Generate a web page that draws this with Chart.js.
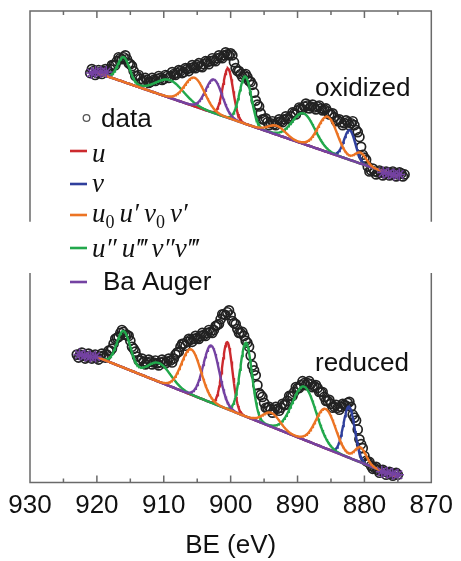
<!DOCTYPE html>
<html>
<head>
<meta charset="utf-8">
<script src="https://cdn.jsdelivr.net/npm/chart.js@4.4.1/dist/chart.umd.min.js"></script>
<style>
  html, body { margin: 0; padding: 0; background: #fff; }
  #wrap { position: relative; width: 461px; height: 561px; }
</style>
</head>
<body>
<div id="wrap"><canvas id="c" width="461" height="561"></canvas></div>
<script>
// Ce 3d XPS spectra. Binding energy in eV, intensity in arbitrary units
// (the oxidized spectrum is stacked above the reduced one).
// Each spectrum is stored as two interleaved sets of channels.
const beOxidized = [
  921.0, 920.5, 920.0, 919.5, 919.0, 918.5, 918.0, 917.5, 917.0, 916.5,
  916.0, 915.5, 915.0, 914.5, 914.0, 913.5, 913.0, 912.5, 912.0, 911.5,
  911.0, 910.5, 910.0, 909.5, 909.0, 908.5, 908.0, 907.5, 907.0, 906.5,
  906.0, 905.5, 905.0, 904.5, 904.0, 903.5, 903.0, 902.5, 902.0, 901.5,
  901.0, 900.5, 900.0, 899.5, 899.0, 898.5, 898.0, 897.5, 897.0, 896.5,
  896.0, 895.5, 895.0, 894.5, 894.0, 893.5, 893.0, 892.5, 892.0, 891.5,
  891.0, 890.5, 890.0, 889.5, 889.0, 888.5, 888.0, 887.5, 887.0, 886.5,
  886.0, 885.5, 885.0, 884.5, 884.0, 883.5, 883.0, 882.5, 882.0, 881.5,
  881.0, 880.5, 880.0, 879.5, 879.0, 878.5, 878.0, 877.5, 877.0, 876.5,
  876.0, 875.5, 875.0, 874.5, 874.0
];
const intOxidized = [
  416, 418, 416, 417, 418, 418, 420, 424, 428, 431,
  432, 430, 425, 418, 413, 410, 408, 409, 407, 409,
  410, 411, 410, 413, 413, 415, 416, 418, 417, 420,
  421, 422, 424, 423, 425, 427, 428, 429, 431, 432,
  434, 435, 436, 427, 418, 415, 414, 412, 407, 396,
  384, 375, 369, 366, 365, 364, 366, 367, 369, 370,
  372, 375, 378, 380, 382, 383, 382, 381, 382, 380,
  379, 377, 374, 371, 368, 366, 365, 366, 365, 363,
  356, 341, 330, 321, 317, 316, 315, 315, 314, 315,
  314, 314, 313, 314, 313
];
const beOxidizedMid = [
  920.75, 920.25, 919.75, 919.25, 918.75, 918.25, 917.75, 917.25, 916.75, 916.25,
  915.75, 915.25, 914.75, 914.25, 913.75, 913.25, 912.75, 912.25, 911.75, 911.25,
  910.75, 910.25, 909.75, 909.25, 908.75, 908.25, 907.75, 907.25, 906.75, 906.25,
  905.75, 905.25, 904.75, 904.25, 903.75, 903.25, 902.75, 902.25, 901.75, 901.25,
  900.75, 900.25, 899.75, 899.25, 898.75, 898.25, 897.75, 897.25, 896.75, 896.25,
  895.75, 895.25, 894.75, 894.25, 893.75, 893.25, 892.75, 892.25, 891.75, 891.25,
  890.75, 890.25, 889.75, 889.25, 888.75, 888.25, 887.75, 887.25, 886.75, 886.25,
  885.75, 885.25, 884.75, 884.25, 883.75, 883.25, 882.75, 882.25, 881.75, 881.25,
  880.75, 880.25, 879.75, 879.25, 878.75, 878.25, 877.75, 877.25, 876.75, 876.25,
  875.75, 875.25, 874.75, 874.25
];
const intOxidizedMid = [
  420, 414, 419, 415, 420, 417, 424, 424, 432, 430,
  434, 426, 423, 413, 414, 407, 411, 406, 411, 408,
  413, 409, 414, 411, 417, 414, 419, 416, 421, 418,
  424, 421, 426, 422, 428, 425, 431, 428, 434, 431,
  437, 434, 434, 421, 418, 412, 415, 408, 404, 388,
  382, 369, 370, 363, 367, 363, 369, 366, 372, 369,
  376, 374, 381, 379, 385, 380, 384, 379, 383, 378,
  380, 374, 375, 367, 369, 363, 368, 363, 367, 358,
  351, 333, 328, 316, 319, 313, 317, 312, 316, 312,
  316, 311, 315, 311
];

const beReduced = [
  923.0, 922.5, 922.0, 921.5, 921.0, 920.5, 920.0, 919.5, 919.0, 918.5,
  918.0, 917.5, 917.0, 916.5, 916.0, 915.5, 915.0, 914.5, 914.0, 913.5,
  913.0, 912.5, 912.0, 911.5, 911.0, 910.5, 910.0, 909.5, 909.0, 908.5,
  908.0, 907.5, 907.0, 906.5, 906.0, 905.5, 905.0, 904.5, 904.0, 903.5,
  903.0, 902.5, 902.0, 901.5, 901.0, 900.5, 900.0, 899.5, 899.0, 898.5,
  898.0, 897.5, 897.0, 896.5, 896.0, 895.5, 895.0, 894.5, 894.0, 893.5,
  893.0, 892.5, 892.0, 891.5, 891.0, 890.5, 890.0, 889.5, 889.0, 888.5,
  888.0, 887.5, 887.0, 886.5, 886.0, 885.5, 885.0, 884.5, 884.0, 883.5,
  883.0, 882.5, 882.0, 881.5, 881.0, 880.5, 880.0, 879.5, 879.0, 878.5,
  878.0, 877.5, 877.0, 876.5, 876.0, 875.5, 875.0
];
const intReduced = [
  130, 130, 129, 128, 129, 128, 127, 128, 129, 130,
  134, 141, 147, 152, 153, 150, 144, 136, 128, 124,
  123, 122, 123, 122, 121, 122, 123, 123, 124, 126,
  132, 138, 141, 143, 145, 146, 147, 149, 150, 152,
  153, 155, 160, 166, 171, 173, 170, 162, 156, 152,
  149, 142, 129, 114, 99, 89, 81, 76, 74, 74,
  75, 76, 79, 83, 88, 92, 96, 99, 101, 101,
  100, 98, 96, 92, 87, 83, 80, 77, 76, 77,
  79, 81, 77, 66, 54, 39, 27, 21, 17, 15,
  13, 12, 11, 10, 9, 9, 8
];
const beReducedMid = [
  922.75, 922.25, 921.75, 921.25, 920.75, 920.25, 919.75, 919.25, 918.75, 918.25,
  917.75, 917.25, 916.75, 916.25, 915.75, 915.25, 914.75, 914.25, 913.75, 913.25,
  912.75, 912.25, 911.75, 911.25, 910.75, 910.25, 909.75, 909.25, 908.75, 908.25,
  907.75, 907.25, 906.75, 906.25, 905.75, 905.25, 904.75, 904.25, 903.75, 903.25,
  902.75, 902.25, 901.75, 901.25, 900.75, 900.25, 899.75, 899.25, 898.75, 898.25,
  897.75, 897.25, 896.75, 896.25, 895.75, 895.25, 894.75, 894.25, 893.75, 893.25,
  892.75, 892.25, 891.75, 891.25, 890.75, 890.25, 889.75, 889.25, 888.75, 888.25,
  887.75, 887.25, 886.75, 886.25, 885.75, 885.25, 884.75, 884.25, 883.75, 883.25,
  882.75, 882.25, 881.75, 881.25, 880.75, 880.25, 879.75, 879.25, 878.75, 878.25,
  877.75, 877.25, 876.75, 876.25, 875.75, 875.25
];
const intReducedMid = [
  127, 132, 126, 131, 126, 130, 125, 131, 127, 134,
  136, 146, 148, 155, 150, 149, 138, 133, 124, 126,
  120, 125, 120, 124, 119, 125, 121, 126, 122, 130,
  133, 141, 139, 146, 143, 149, 146, 152, 149, 155,
  152, 159, 161, 171, 170, 175, 164, 161, 152, 153,
  144, 138, 119, 109, 91, 87, 76, 77, 71, 77,
  73, 80, 79, 88, 88, 97, 96, 103, 99, 103,
  97, 99, 92, 92, 83, 84, 76, 79, 74, 80,
  78, 82, 69, 63, 44, 35, 22, 21, 14, 16,
  10, 13, 8, 11, 7, 10
];

// Points of the background end regions (drawn as asterisks)
const endsBE = [920.8, 920.2, 919.4, 918.6, 877.2, 876.4, 875.6, 874.8];
const endsOxidized = [416, 417, 417, 417, 315, 314, 313, 313];
const endsBEReduced = [922.6, 921.8, 921.0, 920.2, 877.4, 876.6, 875.8, 875.0];
const endsReduced = [130, 129, 128, 128, 11, 10, 9, 8];

// Linear background: energies of its two end points and values there
const bgEnergy = [920.3, 875.3];
const bgOxidized = [417.1, 311.7];
const bgReduced = [128.4, 6.3];

// Fitted Gaussian components: component family, centre (eV),
// height above the background, FWHM (eV)
const peakFamily = ['sat2', 'sat2', 'sat1', 'ba', 'u', 'sat2', 'sat1', 'sat2', 'sat1', 'v', 'sat1'];
const centreOx  = [916.0, 909.1, 905.4, 902.5, 900.4, 897.8, 893.1, 889.1, 885.5, 882.2, 880.6];
const heightOx  = [25, 18, 29, 34, 50, 48, 9, 31, 36, 30, 11];
const fwhmOx    = [2.1, 4.8, 3.5, 2.9, 1.8, 2.1, 3.0, 4.0, 3.4, 2.0, 2.0];
const centreRed = [916.0, 910.7, 905.9, 902.9, 900.5, 897.7, 893.9, 889.0, 885.8, 882.3, 880.6];
const heightRed = [37, 19, 46, 58, 68, 75, 14, 54, 40, 52, 15];
const fwhmRed   = [2.4, 4.1, 3.4, 2.8, 1.8, 2.1, 3.0, 4.2, 3.5, 2.0, 2.0];

// Legend entries (family keys and colours)
const families = ['u', 'v', 'sat1', 'sat2', 'ba'];
const familyColors = {
  u: '#cc2a2e', v: '#2f3f9c', sat1: '#ec7424', sat2: '#22a84c', ba: '#7442a2'
};

function pairs(xs, ys) {
  return xs.map((x, i) => ({ x: x, y: ys[i] }));
}

// Background plus the sum of one family's Gaussians, sampled at 0.1 eV
function familyCurve(key, bg, centres, heights, fwhms) {
  const pts = [];
  const n = Math.round((bgEnergy[0] - bgEnergy[1]) / 0.1);
  for (let k = 0; k <= n; k++) {
    const e = bgEnergy[0] - k * 0.1;
    const t = (e - bgEnergy[1]) / (bgEnergy[0] - bgEnergy[1]);
    let y = bg[1] + t * (bg[0] - bg[1]);
    for (let i = 0; i < peakFamily.length; i++) {
      if (peakFamily[i] !== key) continue;
      const s = fwhms[i] / 2.3548;
      const d = e - centres[i];
      y += heights[i] * Math.exp(-(d * d) / (2 * s * s));
    }
    pts.push({ x: e, y: y });
  }
  return pts;
}

// lower order is painted later (on top)
const drawOrder = { v: 7, u: 6, sat2: 5, ba: 4, sat1: 3 };
const datasets = [];

[
  [beOxidized, intOxidized, beOxidizedMid, intOxidizedMid],
  [beReduced, intReduced, beReducedMid, intReducedMid]
].forEach(([be, it, beMid, itMid]) => {
  datasets.push({
    data: pairs(be, it).concat(pairs(beMid, itMid)), showLine: false, order: 20,
    pointStyle: 'circle', pointRadius: 4.5, borderWidth: 1.7,
    borderColor: '#222', backgroundColor: 'rgba(255,255,255,0)'
  });
});

[[bgOxidized, centreOx, heightOx, fwhmOx], [bgReduced, centreRed, heightRed, fwhmRed]].forEach(p => {
  families.forEach(key => {
    datasets.push({
      data: familyCurve(key, p[0], p[1], p[2], p[3]), showLine: true,
      order: drawOrder[key], pointRadius: 0, borderWidth: 2.4,
      borderColor: familyColors[key], tension: 0
    });
  });
});

[[endsBE, endsOxidized], [endsBEReduced, endsReduced]].forEach(([be, it]) => {
  datasets.push({
    data: pairs(be, it), showLine: false, order: 0,
    pointStyle: 'star', pointRadius: 6, borderWidth: 1.6,
    borderColor: familyColors.ba, backgroundColor: familyColors.ba
  });
});

const SANS = '"Liberation Sans", Arial, Helvetica, sans-serif';
const SERIF = '"Liberation Serif", "Times New Roman", "DejaVu Serif", serif';

// Frame with inward ticks; the two stacked panels leave a gap in the side borders
const framePlugin = {
  id: 'frame',
  afterDraw(chart) {
    const { ctx, chartArea: a, scales } = chart;
    const xs = scales.x, ys = scales.y;
    const gapTop = ys.getPixelForValue(265), gapBottom = ys.getPixelForValue(213);
    ctx.save();
    ctx.strokeStyle = '#6a6a6a';
    ctx.lineWidth = 1.5;
    ctx.beginPath();
    ctx.moveTo(a.left, gapTop); ctx.lineTo(a.left, a.top); ctx.lineTo(a.right, a.top); ctx.lineTo(a.right, gapTop);
    ctx.moveTo(a.left, gapBottom); ctx.lineTo(a.left, a.bottom); ctx.lineTo(a.right, a.bottom); ctx.lineTo(a.right, gapBottom);
    for (let v = 875; v <= 925; v += 5) {
      const x = xs.getPixelForValue(v);
      const len = v % 10 === 0 ? 7 : 4;
      ctx.moveTo(x, a.top); ctx.lineTo(x, a.top + len);
      ctx.moveTo(x, a.bottom); ctx.lineTo(x, a.bottom - len);
    }
    ctx.stroke();
    ctx.restore();
  }
};

function drawRich(ctx, x, y, parts) {
  parts.forEach(p => {
    if (p === ' ') { x += 5; return; }
    const [txt, kind] = p;
    if (kind === 'sub') {
      ctx.font = '18px ' + SERIF;
      ctx.fillText(txt, x, y + 6);
    } else {
      ctx.font = 'italic 27px ' + SERIF;
      ctx.fillText(txt, x, y);
    }
    x += ctx.measureText(txt).width;
  });
}

// Legend and panel labels
const labelPlugin = {
  id: 'labels',
  afterDraw(chart) {
    const ctx = chart.ctx;
    ctx.save();
    ctx.fillStyle = '#111';
    ctx.textBaseline = 'alphabetic';
    ctx.textAlign = 'left';
    ctx.font = '26px ' + SANS;
    ctx.fillText('oxidized', 315, 96);
    ctx.fillText('reduced', 315, 371);

    // data marker
    ctx.beginPath();
    ctx.arc(86.5, 118, 3.3, 0, Math.PI * 2);
    ctx.strokeStyle = '#555';
    ctx.lineWidth = 1.3;
    ctx.stroke();
    ctx.fillText('data', 101, 127);

    const rows = [
      ['u', 151], ['v', 184], ['sat1', 215], ['sat2', 248], ['ba', 282]
    ];
    rows.forEach(([key, ly]) => {
      ctx.strokeStyle = familyColors[key];
      ctx.lineWidth = 2.6;
      ctx.beginPath();
      ctx.moveTo(70, ly); ctx.lineTo(87, ly);
      ctx.stroke();
    });
    drawRich(ctx, 92, 162, [['u', 'i']]);
    drawRich(ctx, 92, 192, [['v', 'i']]);
    drawRich(ctx, 92, 222, [['u', 'i'], ['0', 'sub'], ' ', ['u\u2032', 'i'], ' ', ['v', 'i'], ['0', 'sub'], ' ', ['v\u2032', 'i']]);
    drawRich(ctx, 92, 257, [['u\u2033', 'i'], ' ', ['u\u2034', 'i'], ' ', ['v\u2033', 'i'], ['v\u2034', 'i']]);
    ctx.font = '26px ' + SANS;
    ctx.fillText('Ba Auger', 103, 290);
    ctx.restore();
  }
};

new Chart(document.getElementById('c'), {
  type: 'scatter',
  data: { datasets: datasets },
  options: {
    responsive: false,
    devicePixelRatio: 1,
    animation: false,
    layout: { padding: { left: 30, right: 24, top: 11, bottom: 0 } },
    plugins: { legend: { display: false }, tooltip: { enabled: false } },
    scales: {
      x: {
        type: 'linear', min: 870, max: 930, reverse: true,
        grid: { display: false, drawTicks: false },
        border: { display: false },
        ticks: { stepSize: 10, padding: 8, color: '#111', font: { family: SANS, size: 26 } },
        title: { display: true, text: 'BE (eV)', color: '#111', padding: { top: 0, bottom: 0 },
                 font: { family: SANS, size: 26 } }
      },
      y: { display: false, min: 0, max: 479 }
    }
  },
  plugins: [framePlugin, labelPlugin]
});
</script>
</body>
</html>
